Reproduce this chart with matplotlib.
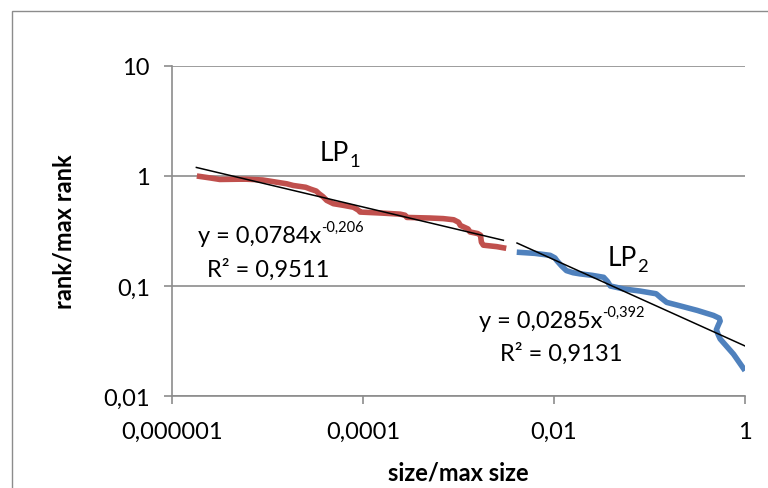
import matplotlib
matplotlib.use("Agg")
import matplotlib.pyplot as plt
import numpy as np
from matplotlib.patches import Rectangle
from matplotlib.ticker import FixedLocator, FixedFormatter, NullLocator
from matplotlib.transforms import offset_copy

plt.rcParams['font.family'] = ['Lato', 'DejaVu Sans']

# LP1 (red) data, log10(x) and y values
lp1_logx = [-5.74, -5.60, -5.50, -5.30, -5.22, -5.05, -4.91, -4.80, -4.73, -4.60, -4.55, -4.49,
            -4.46, -4.42, -4.38, -4.31, -4.20, -4.10, -4.05, -4.03, -3.80, -3.61, -3.56,
            -3.54, -3.30, -3.16, -3.05, -3.00, -2.98, -2.90, -2.88, -2.80, -2.77, -2.76,
            -2.74, -2.60, -2.50]
lp1_y = [1.0, 0.96, 0.93, 0.935, 0.935, 0.92, 0.88, 0.85, 0.82, 0.79, 0.76, 0.73,
         0.69, 0.65, 0.60, 0.56, 0.54, 0.52, 0.49, 0.47, 0.46, 0.45, 0.44,
         0.42, 0.415, 0.41, 0.40, 0.38, 0.355, 0.33, 0.31, 0.30, 0.29, 0.25,
         0.235, 0.228, 0.22]

# LP2 (blue)
lp2_logx = [-2.39, -2.20, -2.04, -1.99, -1.97, -1.92, -1.87, -1.80, -1.73, -1.60, -1.48,
            -1.44, -1.41, -1.27, -1.10, -0.93, -0.88, -0.82, -0.68, -0.50, -0.33, -0.27,
            -0.26, -0.28, -0.30, -0.28, -0.26, -0.12, 0.0]
lp2_y = [0.203, 0.198, 0.19, 0.18, 0.17, 0.152, 0.138, 0.132, 0.129, 0.125, 0.12,
         0.11, 0.10, 0.094, 0.09, 0.085, 0.078, 0.071, 0.066, 0.06, 0.054, 0.051,
         0.048, 0.044, 0.040, 0.036, 0.033, 0.024, 0.017]

# power-law fits: coefficient, exponent, x start, x end
fit1 = (0.0784, -0.206, 1.8e-6, 2.95e-3)
fit2 = (0.0285, -0.392, 4.1e-3, 1.0)

xticks = [1e-6, 1e-4, 1e-2, 1]
xticklabels = ['0,000001', '0,0001', '0,01', '1']
yticks = [0.01, 0.1, 1, 10]
yticklabels = ['0,01', '0,1', '1', '10']

fig = plt.figure(figsize=(7.68, 4.89), dpi=100)
fig.patches.append(Rectangle((12/768, -0.1), 1.2, 1 - 12/489 + 0.1, transform=fig.transFigure,
                             fill=False, edgecolor='#8c8c8c', linewidth=1.0))
ax = fig.add_axes([172/768, 1 - 397/489, (745-172)/768, (397-67)/489])
ax.set_xscale('log')
ax.set_yscale('log')
ax.set_xlim(1e-6, 1)
ax.set_ylim(0.01, 10)

ax.plot(10**np.array(lp1_logx), lp1_y, color='#C0504D', lw=4.0, solid_capstyle='butt',
        solid_joinstyle='round')
ax.plot(10**np.array(lp2_logx), lp2_y, color='#4F81BD', lw=4.0, solid_capstyle='butt',
        solid_joinstyle='round')

for a, b, x0, x1 in (fit1, fit2):
    xs = np.array([x0, x1])
    ax.plot(xs, a * xs**b, color='black', lw=1.1)

ax.xaxis.set_major_locator(FixedLocator(xticks))
ax.xaxis.set_major_formatter(FixedFormatter(xticklabels))
ax.xaxis.set_minor_locator(NullLocator())
ax.yaxis.set_major_locator(FixedLocator(yticks))
ax.yaxis.set_major_formatter(FixedFormatter(yticklabels))
ax.yaxis.set_minor_locator(NullLocator())

ax.grid(axis='y', color='#8c8c8c', lw=1.2)
ax.set_axisbelow(True)
for s in ['top', 'right']:
    ax.spines[s].set_visible(False)
for s in ['left', 'bottom']:
    ax.spines[s].set_color('#8c8c8c')
    ax.spines[s].set_linewidth(1.2)
ax.tick_params(axis='both', colors='#8c8c8c', labelcolor='black', labelsize=17, length=6,
               width=1.2)
ax.tick_params(axis='x', pad=12)
ax.tick_params(axis='y', pad=10)

ax.set_xlabel('size/max size', fontsize=17, fontweight='bold', labelpad=13)
ax.set_ylabel('rank/max rank', fontsize=17, fontweight='bold', labelpad=20)

fig.canvas.draw()
renderer = fig.canvas.get_renderer()


def sup_text(x, y, base, sup, size, kind='sup', ratio=0.62):
    """Draw base text centred at (x, y) with a superscript / subscript after it."""
    t = ax.text(x, y, base, fontsize=size, ha='left', va='center')
    ts = ax.text(x, y, sup, fontsize=size * ratio, ha='left', va='center')
    bb = t.get_window_extent(renderer)
    sb = ts.get_window_extent(renderer)
    total = bb.width + sb.width
    dx = -total / 2 * 72 / fig.dpi
    t.set_transform(offset_copy(ax.transData, fig=fig, x=dx, y=0, units='points'))
    dy = size * (0.38 if kind == 'sup' else -0.32)
    ts.set_transform(offset_copy(ax.transData, fig=fig,
                                 x=dx + bb.width * 72 / fig.dpi, y=dy, units='points'))


sup_text(5.75e-5, 1.64, 'LP', '1', 19, kind='sub', ratio=0.7)
sup_text(0.0596, 0.18, 'LP', '2', 19, kind='sub', ratio=0.7)
sup_text(1.38e-5, 0.288, 'y = 0,0784x', '-0,206', 17)
ax.text(1.01e-5, 0.144, 'R² = 0,9511', fontsize=17, ha='center', va='center')
sup_text(0.0121, 0.0486, 'y = 0,0285x', '-0,392', 17)
ax.text(0.0118, 0.0248, 'R² = 0,9131', fontsize=17, ha='center', va='center')

fig.savefig('out.png', dpi=100)
